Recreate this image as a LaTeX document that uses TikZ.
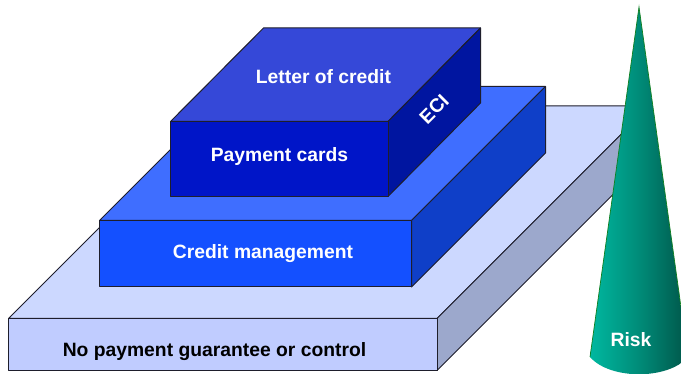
\documentclass[tikz,border=0pt]{standalone}
\usepackage{fontspec}
\setmainfont{Liberation Sans}
\definecolor{baseTop}{HTML}{CCD8FF}
\definecolor{baseFront}{HTML}{C0CCFF}
\definecolor{baseSide}{HTML}{9CA8CC}
\definecolor{midTop}{HTML}{3F6EFF}
\definecolor{midFront}{HTML}{1450FF}
\definecolor{midSide}{HTML}{0F3FC8}
\definecolor{topTop}{HTML}{3548D8}
\definecolor{topFront}{HTML}{0015C8}
\definecolor{topSide}{HTML}{0015A0}
\definecolor{coneL}{HTML}{00B8A0}
\definecolor{coneR}{HTML}{005548}
\definecolor{coneEdge}{HTML}{108020}
\definecolor{edgeDark}{HTML}{1E1E2C}
\tikzset{
  face/.style={draw=edgeDark,line width=1pt,line join=round},
  lbl/.style={font=\bfseries\fontsize{19.3}{21}\selectfont,inner sep=0pt,text=white},
}
\begin{document}
\begin{tikzpicture}[x=1pt,y=-1pt]
\useasboundingbox (0,0) rectangle (681,374);
\clip (0,0) rectangle (681,374);
% base slab
\fill[white] (0,0) rectangle (681,374);
\draw[face,fill=baseTop] (8.5,318.5) -- (221,106) -- (649.5,106) -- (437,318.5) -- cycle;
\draw[face,fill=baseSide] (437,318.5) -- (649.5,106) -- (649.5,158) -- (437,370.5) -- cycle;
\draw[face,fill=baseFront] (8.5,318.5) rectangle (437,370.5);
% middle slab
\draw[face,fill=midTop] (99.5,220.5) -- (233.5,86.5) -- (545.5,86.5) -- (411.5,220.5) -- cycle;
\draw[face,fill=midSide] (411.5,220.5) -- (545.5,86.5) -- (545.5,153) -- (411.5,287) -- cycle;
\draw[face,fill=midFront] (99.5,220.5) rectangle (411.5,287);
% top slab
\draw[face,fill=topTop] (170.5,121.5) -- (263.5,28) -- (480.5,28) -- (388,121.5) -- cycle;
\draw[face,fill=topSide] (388,121.5) -- (480.5,28) -- (480.5,103) -- (388,196.5) -- cycle;
\draw[face,fill=topFront] (170.5,121.5) rectangle (388,196.5);
% cone
\path[left color=coneL,right color=coneR,middle color=coneL!55!coneR]
  (639,7) -- (590,357) .. controls (610,380) and (668,380) .. (688,357) -- cycle;
\draw[coneEdge,line width=0.7pt] (590,357) -- (639,7) -- (688,357);
% labels
\node[lbl] (loc) at (323.5,77) {Letter of credit};
\node[lbl] (pay) at (279.5,156.5) {Payment cards};
\node[lbl] (eci) at (434,109) [rotate=45] {ECI};
\node[lbl] (cred) at (263,253.5) {Credit management};
\node[lbl,text=black] (none) at (214.5,351.5) {No payment guarantee or control};
\node[lbl] (risk) at (631,339.5) {Risk};
\end{tikzpicture}
\end{document}
